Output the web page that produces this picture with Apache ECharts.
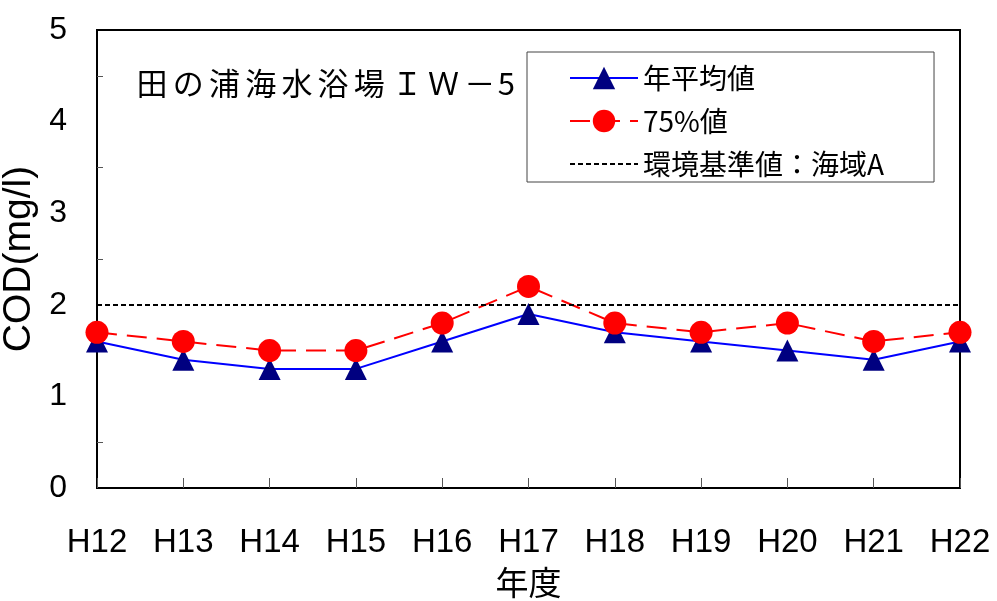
<!DOCTYPE html>
<html>
<head>
<meta charset="utf-8">
<script src="https://cdn.jsdelivr.net/npm/echarts@6/dist/echarts.min.js"></script>
<style>
  html, body { margin: 0; padding: 0; background: #fff; }
  #main { width: 997px; height: 601px; }
</style>
</head>
<body>
<div id="main"></div>
<script>
// 年度
const years = ['H12', 'H13', 'H14', 'H15', 'H16', 'H17', 'H18', 'H19', 'H20', 'H21', 'H22']
// 年平均値
const annualMean = [1.6, 1.4, 1.3, 1.3, 1.6, 1.9, 1.7, 1.6, 1.5, 1.4, 1.6]
// 75%値
const value75 = [1.7, 1.6, 1.5, 1.5, 1.8, 2.2, 1.8, 1.7, 1.8, 1.6, 1.7]
// 環境基準値（海域A）
const standardValue = 2

const titleText = '田の浦海水浴場 ＩＷ－5'

const jp = '"Noto Sans CJK JP", sans-serif'
const latin = '"Liberation Sans", Arial, sans-serif'

// 全角文字は少し字間を空ける（元図の等幅フォント風）
const richTitle = titleText.split('').map(function (ch) {
  if (ch === ' ') return '{s| }'
  return ch.charCodeAt(0) > 0x2e80 ? '{w|' + ch + '}' : '{n|' + ch + '}'
}).join('')

const myChart = echarts.init(document.getElementById('main'))

const option = {
  animation: false,
  title: {
    text: richTitle,
    left: 129,
    top: 63,
    textStyle: {
      fontFamily: jp,
      fontSize: 31,
      fontWeight: 'normal',
      color: '#000',
      rich: {
        w: { fontFamily: jp, fontSize: 31, color: '#000', padding: [0, 2.6, 0, 2.6] },
        n: { fontFamily: jp, fontSize: 31, color: '#000' },
        s: { fontFamily: jp, fontSize: 8, color: '#000' }
      }
    }
  },
  legend: {
    orient: 'vertical',
    left: 527,
    top: 52,
    padding: [12, 50, 4, 42],
    itemGap: 15,
    itemWidth: 68,
    itemHeight: 28,
    borderColor: '#444',
    borderWidth: 1,
    textStyle: { fontFamily: jp, fontSize: 28, color: '#000' },
    data: ['年平均値', '75%値', '環境基準値：海域A']
  },
  grid: {
    left: 97,
    right: 37,
    top: 30,
    bottom: 113,
    outerBoundsMode: 'none',
    containLabel: false,
    show: true,
    borderColor: '#000',
    borderWidth: 2
  },
  xAxis: {
    type: 'category',
    boundaryGap: false,
    data: years,
    name: '年度',
    nameLocation: 'middle',
    nameGap: 78,
    nameTextStyle: { fontFamily: jp, fontSize: 33, color: '#000' },
    axisLine: { lineStyle: { color: '#000', width: 2 } },
    axisTick: { inside: true, length: 10, lineStyle: { color: '#555', width: 1 } },
    axisLabel: { margin: 38, fontFamily: latin, fontSize: 33, color: '#000' },
    splitLine: { show: false }
  },
  yAxis: {
    type: 'value',
    min: 0,
    max: 5,
    interval: 1,
    name: 'COD(mg/l)',
    nameLocation: 'middle',
    nameGap: 48,
    nameTextStyle: { fontFamily: latin, fontSize: 39, color: '#000' },
    axisLine: { show: true, lineStyle: { color: '#000', width: 2 } },
    axisTick: { inside: true, length: 8, lineStyle: { color: '#000', width: 1 } },
    minorTick: { show: true, splitNumber: 2, length: 6, lineStyle: { color: '#555', width: 1 } },
    axisLabel: { margin: 30, fontFamily: latin, fontSize: 32, color: '#000' },
    splitLine: { show: false }
  },
  series: [
    {
      name: '年平均値',
      type: 'line',
      data: annualMean,
      symbol: 'triangle',
      symbolSize: 22,
      itemStyle: { color: '#000080' },
      lineStyle: { color: '#0000ff', width: 2 },
      z: 3
    },
    {
      name: '75%値',
      type: 'line',
      data: value75,
      symbol: 'circle',
      symbolSize: 23,
      itemStyle: { color: '#ff0000' },
      lineStyle: { color: '#ff0000', width: 2, type: [20, 10] },
      z: 4
    },
    {
      name: '環境基準値：海域A',
      type: 'line',
      data: [],
      symbol: 'none',
      itemStyle: { color: '#000', opacity: 0 },
      lineStyle: { color: '#000', width: 2, type: [5, 3] },
      markLine: {
        silent: true,
        symbol: 'none',
        label: { show: false },
        lineStyle: { color: '#000', width: 2, type: [5, 3], opacity: 1 },
        data: [{ yAxis: standardValue }]
      },
      z: 2
    }
  ]
}

myChart.setOption(option)
</script>
</body>
</html>
